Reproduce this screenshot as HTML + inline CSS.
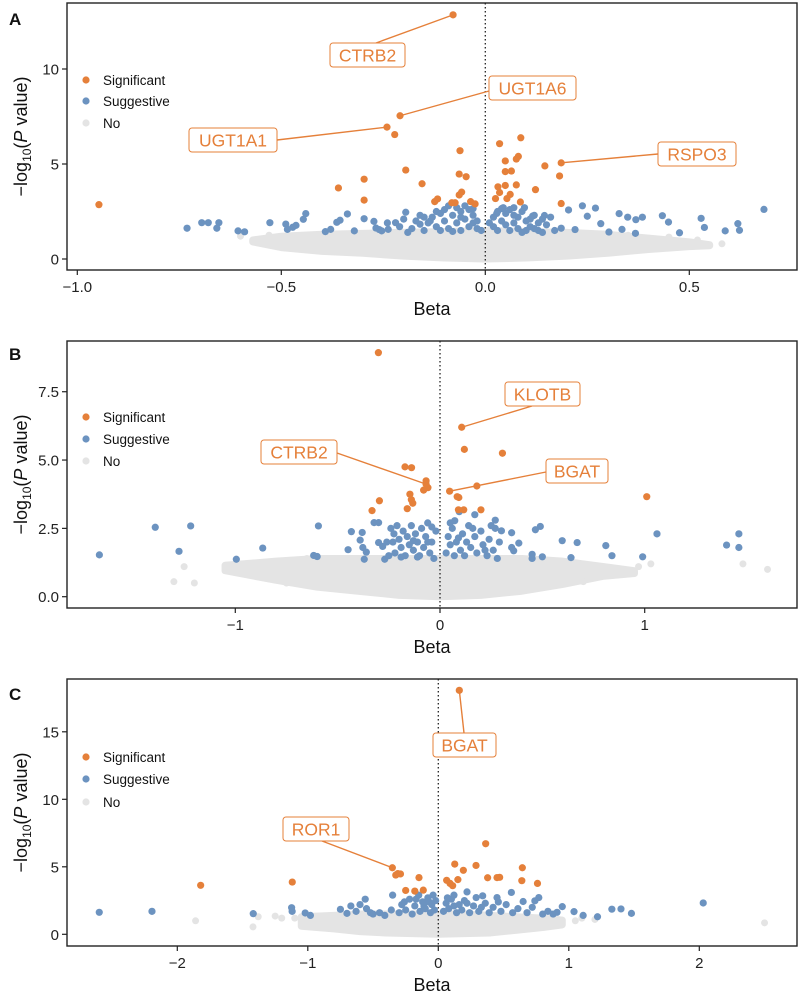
<!DOCTYPE html>
<html><head><meta charset="utf-8"><style>
body{margin:0;background:#fff}
svg{display:block;font-family:"Liberation Sans",Arial,sans-serif}
</style></head><body>
<svg id="chart" width="800" height="995" viewBox="0 0 800 995" xmlns="http://www.w3.org/2000/svg"></svg>
<script>
// ---------- Panel A data ----------
const sigA=[[-0.079,12.85],[-0.209,7.54],[-0.241,6.94],[-0.222,6.55],[-0.36,3.74],[-0.297,4.2],[-0.297,3.1],[-0.947,2.86],[-0.062,5.7],[-0.195,4.68],[-0.155,3.96],[-0.064,4.47],[-0.047,4.33],[-0.058,3.52],[-0.064,3.37],[-0.117,3.16],[-0.124,3.02],[-0.082,2.96],[-0.074,2.96],[-0.036,3.02],[-0.025,2.9],[0.035,6.07],[0.087,6.38],[0.049,5.16],[0.076,5.26],[0.081,5.4],[0.049,4.6],[0.064,4.63],[0.076,3.9],[0.031,3.8],[0.049,3.87],[0.035,3.5],[0.061,3.4],[0.025,3.18],[0.053,3.18],[0.086,3.0],[0.123,3.65],[0.146,4.9],[0.186,5.06],[0.182,4.37],[0.186,2.92]];
const sugA=[[-0.731,1.62],[-0.695,1.91],[-0.679,1.91],[-0.658,1.62],[-0.653,1.91],[-0.606,1.48],[-0.59,1.43],[-0.528,1.91],[-0.489,1.84],[-0.485,1.56],[-0.472,1.67],[-0.464,1.77],[-0.446,2.09],[-0.44,2.39],[-0.392,1.44],[-0.379,1.56],[-0.364,1.93],[-0.356,2.04],[-0.338,2.37],[-0.321,1.48],[-0.297,2.12],[-0.273,1.98],[-0.268,1.63],[-0.254,1.48],[-0.238,1.56],[-0.22,1.91],[-0.195,2.46],[-0.16,1.83],[-0.135,2.0],[-0.11,2.4],[0.028,2.4],[0.044,2.7],[0.07,2.7],[0.096,2.7],[0.116,2.26],[0.145,2.29],[0.186,1.62],[0.204,2.58],[0.22,1.55],[0.238,2.8],[0.25,2.25],[0.27,2.68],[0.283,1.86],[0.303,1.42],[0.328,2.39],[0.335,1.56],[0.349,2.2],[0.368,1.35],[0.369,2.07],[0.385,2.2],[0.434,2.28],[0.449,1.94],[0.476,1.38],[0.529,2.14],[0.537,1.66],[0.588,1.48],[0.619,1.86],[0.623,1.51],[0.683,2.61],
[-0.18,1.6],[-0.17,2.0],[-0.15,1.5],[-0.14,1.9],[-0.13,2.2],[-0.12,1.7],[-0.11,1.5],[-0.1,2.6],[-0.1,2.0],[-0.09,1.6],[-0.08,2.3],[-0.07,2.7],[-0.07,1.9],[-0.06,2.5],[-0.06,1.5],[-0.05,2.8],[-0.05,2.1],[-0.04,2.6],[-0.04,1.7],[-0.03,2.3],[-0.03,1.9],[-0.02,2.0],[-0.02,1.6],[-0.01,1.5],[0.02,1.7],[0.02,2.2],[0.03,2.5],[0.03,1.5],[0.04,2.0],[0.05,1.8],[0.05,2.4],[0.06,1.5],[0.07,1.9],[0.08,2.2],[0.08,1.6],[0.09,1.4],[0.1,2.0],[0.11,1.7],[0.12,2.3],[0.13,1.5],[0.14,2.1],[0.15,1.8],[-0.19,1.4],[-0.16,2.3],[0.06,2.6],[0.1,1.5],[0.12,1.6],[0.14,1.4],[-0.21,1.7],[-0.2,2.1],[0.17,1.5],[0.16,2.2],
[-0.09,2.8],[-0.08,1.45],[-0.06,2.2],[-0.03,2.65],[0.01,1.9],[0.04,2.65],[0.07,2.3],[0.09,2.5],[0.11,2.1],[0.13,1.9],[-0.15,2.2],[-0.12,2.5],[-0.24,1.9],[-0.26,1.55]];
const greyXA=[-0.57,-0.5,-0.4,-0.3,-0.2,-0.1,0,0.1,0.2,0.3,0.4,0.5,0.55];
const greyTopA=[1.0,1.2,1.3,1.35,1.4,1.45,1.5,1.45,1.4,1.3,1.1,0.9,0.75];
const greyBotA=[0.9,0.6,0.4,0.3,0.15,0.05,0.0,0.05,0.15,0.3,0.5,0.65,0.7];
const greyPtsA=[[-0.6,1.2],[-0.53,1.25],[0.52,1.0],[0.58,0.8],[0.45,1.15],[-0.45,1.1],[-0.5,0.7],[0.4,0.6],[0.35,1.25]];
const labelsA=[{t:"CTRB2",p:[-0.079,12.85],bx:330,by:43,bw:75,lx:376,ly:43},{t:"UGT1A6",p:[-0.209,7.54],bx:489,by:76,bw:87,lx:489,ly:91},{t:"UGT1A1",p:[-0.241,6.94],bx:189,by:128,bw:88,lx:277,ly:140},{t:"RSPO3",p:[0.186,5.06],bx:658,by:142,bw:78,lx:658,ly:154}];
const xTicksA=[-1.0,-0.5,0.0,0.5];
const xTickLabelsA=["\u22121.0","\u22120.5","0.0","0.5"];
const yTicksA=[0,5,10];
const yTickLabelsA=["0","5","10"];

// ---------- Panel B data ----------
const sigB=[[-0.301,8.93],[-0.296,3.51],[-0.332,3.15],[0.106,6.2],[0.119,5.39],[0.305,5.25],[-0.171,4.75],[-0.139,4.72],[-0.068,4.24],[-0.059,3.99],[-0.068,4.12],[-0.08,3.9],[-0.147,3.75],[-0.14,3.55],[-0.133,3.42],[-0.16,3.22],[0.047,3.86],[0.18,4.05],[0.084,3.66],[0.092,3.63],[0.09,3.18],[0.116,3.18],[0.2,3.18],[1.01,3.66]];
const sugB=[[-1.664,1.53],[-1.391,2.54],[-1.218,2.59],[-1.275,1.66],[-0.995,1.37],[-0.866,1.78],[-0.594,2.59],[-0.617,1.51],[-0.6,1.47],[-0.449,1.72],[-0.433,2.38],[-0.39,2.07],[-0.38,2.35],[-0.377,1.8],[-0.37,1.37],[-0.36,1.63],[-0.322,2.71],[-0.3,2.71],[-0.3,1.98],[-0.28,1.84],[-0.27,1.37],[-0.26,2.0],[-0.24,2.5],[-0.225,2.3],[0.094,3.11],[0.072,2.78],[0.17,3.0],[0.27,2.8],[0.3,2.41],[0.35,2.34],[0.385,1.96],[0.35,1.8],[0.36,1.68],[0.466,2.45],[0.49,2.57],[0.45,1.55],[0.45,1.4],[0.5,1.46],[0.597,2.05],[0.67,1.98],[0.64,1.43],[0.81,1.87],[0.84,1.5],[0.99,1.46],[1.06,2.3],[1.4,1.89],[1.46,2.3],[1.46,1.8],
[-0.22,1.6],[-0.2,2.1],[-0.19,1.8],[-0.18,2.4],[-0.17,1.5],[-0.16,2.2],[-0.15,1.9],[-0.14,2.6],[-0.13,1.7],[-0.12,2.3],[-0.11,2.0],[-0.1,1.5],[-0.09,2.5],[-0.08,1.8],[-0.07,2.2],[-0.06,2.7],[-0.05,1.6],[-0.04,2.0],[-0.03,1.4],[-0.02,2.4],[0.03,1.6],[0.04,2.2],[0.05,1.9],[0.06,2.5],[0.07,1.5],[0.08,2.0],[0.1,1.7],[0.11,2.3],[0.12,1.5],[0.13,2.0],[0.14,2.6],[0.15,1.8],[0.17,2.2],[0.18,1.6],[0.2,2.4],[0.21,1.9],[0.23,1.5],[0.24,2.1],[0.26,1.7],[0.27,2.5],[0.28,1.4],[-0.25,1.5],[-0.23,2.0],
[-0.21,2.6],[-0.19,1.45],[-0.13,2.05],[-0.11,1.45],[-0.06,2.0],[-0.04,2.55],[0.05,2.7],[0.09,2.15],[0.16,2.5],[0.22,1.7],[0.25,2.6],[0.29,2.0]];
const greyXB=[-1.05,-0.8,-0.6,-0.4,-0.2,0,0.2,0.4,0.6,0.8,0.95];
const greyTopB=[1.15,1.3,1.4,1.4,1.4,1.4,1.4,1.4,1.3,1.1,0.95];
const greyBotB=[0.95,0.6,0.35,0.2,0.05,0.0,0.05,0.2,0.45,0.75,0.85];
const greyPtsB=[[-1.3,0.55],[-1.2,0.5],[-1.25,1.1],[0.97,1.1],[1.03,1.2],[1.48,1.2],[1.6,1.0],[0.78,0.9],[-0.9,1.05],[-0.75,0.5],[-0.65,1.4],[0.7,0.55]];
const labelsB=[{t:"CTRB2",p:[-0.068,4.12],bx:261,by:440,bw:76,lx:337,ly:453},{t:"KLOTB",p:[0.106,6.2],bx:505,by:382,bw:75,lx:532,ly:406},{t:"BGAT",p:[0.047,3.86],bx:546,by:459,bw:62,lx:546,ly:472}];
const xTicksB=[-1,0,1];
const xTickLabelsB=["\u22121","0","1"];
const yTicksB=[0,2.5,5,7.5];
const yTickLabelsB=["0.0","2.5","5.0","7.5"];

// ---------- Panel C data ----------
const sigC=[[0.161,18.07],[0.363,6.71],[0.126,5.2],[0.192,4.74],[0.289,5.1],[0.644,4.93],[0.378,4.19],[0.45,4.2],[0.47,4.22],[0.64,3.97],[0.76,3.77],[0.064,4.0],[0.09,3.77],[0.11,3.6],[0.15,4.05],[-0.148,4.2],[-0.115,3.27],[-0.18,3.2],[-0.29,4.47],[-0.352,4.93],[-0.326,4.39],[-0.31,4.5],[-1.119,3.87],[-1.821,3.63],[-0.25,3.25]];
const sugC=[[-2.598,1.63],[-2.194,1.7],[-1.418,1.53],[-1.124,1.97],[-1.12,1.7],[-1.02,1.58],[-0.98,1.4],[-0.75,1.85],[-0.7,1.55],[-0.67,2.1],[-0.63,1.7],[-0.6,2.2],[-0.56,2.6],[-0.55,1.9],[-0.52,1.6],[-0.5,1.5],[-0.45,1.6],[-0.41,1.4],[-0.36,1.8],[-0.35,2.9],[2.03,2.32],[1.48,1.55],[1.4,1.88],[1.33,1.86],[1.22,1.3],[1.11,1.4],[1.04,1.68],[0.95,2.05],[0.91,1.63],[0.88,1.5],[0.77,2.72],[0.74,2.48],[0.65,2.43],[0.56,3.1],[0.45,2.72],[0.34,2.85],[0.29,2.72],[0.22,3.14],[0.12,2.9],
[-0.3,1.6],[-0.28,2.2],[-0.25,1.8],[-0.22,2.6],[-0.2,1.5],[-0.18,2.1],[-0.15,2.9],[-0.14,1.7],[-0.12,2.4],[-0.1,1.9],[-0.08,2.7],[-0.06,1.6],[-0.05,2.2],[-0.03,1.8],[-0.02,2.5],[0.04,1.7],[0.06,2.3],[0.08,1.9],[0.1,2.6],[0.14,1.6],[0.16,2.2],[0.18,1.8],[0.2,2.5],[0.24,1.6],[0.27,2.1],[0.31,1.7],[0.36,2.3],[0.39,1.6],[0.42,2.0],[0.48,1.7],[0.52,2.2],[0.57,1.6],[0.61,1.9],[0.68,1.6],[0.72,2.0],[0.8,1.5],[0.84,1.7],
[-0.26,2.4],[-0.17,2.6],[-0.11,2.1],[-0.07,2.4],[-0.04,2.9],[0.07,2.7],[0.12,2.1],[0.22,2.3],[0.33,2.0],[0.46,2.4]];
const greyXC=[-1.05,-0.8,-0.6,-0.4,-0.2,0,0.2,0.4,0.6,0.8,0.95];
const greyTopC=[1.3,1.4,1.5,1.5,1.5,1.5,1.5,1.4,1.3,1.2,1.05];
const greyBotC=[0.6,0.4,0.2,0.1,0.05,0.0,0.05,0.1,0.3,0.5,0.7];
const greyPtsC=[[-1.86,1.0],[-1.42,0.55],[-1.38,1.3],[-1.25,1.35],[-1.2,1.2],[-1.1,1.2],[1.05,1.0],[1.1,1.2],[1.2,1.1],[2.5,0.85],[0.75,1.2]];
const labelsC=[{t:"ROR1",p:[-0.352,4.93],bx:283,by:817,bw:66,lx:322,ly:841},{t:"BGAT",p:[0.161,18.07],bx:433,by:733,bw:63,lx:464,ly:733}];
const xTicksC=[-2,-1,0,1,2];
const xTickLabelsC=["\u22122","\u22121","0","1","2"];
const yTicksC=[0,5,10,15];
const yTickLabelsC=["0","5","10","15"];

const ORANGE="#E5803A", BLUE="#6C93C0", GREY="#E4E4E4";
const NS="http://www.w3.org/2000/svg";
const svg=document.getElementById("chart");
function mk(tag,attrs,parent){const e=document.createElementNS(NS,tag);for(const k in attrs)e.setAttribute(k,attrs[k]);(parent||svg).appendChild(e);return e;}

function panel(cfg){
  const g=mk("g",{});
  
  
  const L=67,R=797,T=cfg.top,B=cfg.bottom;
  const sx=v=>cfg.x0+cfg.kx*v, sy=v=>cfg.y0-cfg.ky*v;
  let pts=[];
  cfg.gx.forEach((x,i)=>pts.push(sx(x)+","+sy(cfg.gt[i])));
  for(let i=cfg.gx.length-1;i>=0;i--)pts.push(sx(cfg.gx[i])+","+sy(cfg.gb[i]));
  const cloud=mk("polygon",{points:pts.join(" "),fill:GREY,stroke:GREY,"stroke-width":7,"stroke-linejoin":"round"},g);
  
  
  cfg.gp.forEach(d=>{const c=mk("circle",{cx:sx(d[0]),cy:sy(d[1]),r:3.5,fill:GREY},g);
    
    });
  const zl=mk("line",{x1:sx(0),x2:sx(0),y1:T,y2:B,stroke:"#222","stroke-width":1.3,"stroke-dasharray":"1.5,2.5"},g);
  
  
  cfg.sug.forEach(d=>{const c=mk("circle",{cx:sx(d[0]),cy:sy(d[1]),r:3.6,fill:BLUE},g);
    
    });
  cfg.sig.forEach(d=>{const c=mk("circle",{cx:sx(d[0]),cy:sy(d[1]),r:3.6,fill:ORANGE},g);
    
    });
  cfg.labels.forEach(l=>{
    const ln=mk("line",{x1:l.lx,y1:l.ly,x2:sx(l.p[0]),y2:sy(l.p[1]),stroke:ORANGE,"stroke-width":1.4},g);
    
    
    const r=mk("rect",{x:l.bx,y:l.by,width:l.bw,height:24,rx:3,fill:"#fff",stroke:ORANGE,"stroke-width":1},g);
    
    
    const t=mk("text",{x:l.bx+l.bw/2,y:l.by+18.5,"text-anchor":"middle","font-size":17.5,fill:ORANGE},g);
    t.textContent=l.t;
    
    
  });
  const fr=mk("rect",{x:L,y:T,width:R-L,height:B-T,fill:"none",stroke:"#222","stroke-width":1.4},g);
  
  
  cfg.xt.forEach((v,i)=>{mk("line",{x1:sx(v),x2:sx(v),y1:B,y2:B+5,stroke:"#222","stroke-width":1.2},g);
    const t=mk("text",{x:sx(v),y:B+22,"text-anchor":"middle","font-size":15,fill:"#222"},g);
    t.textContent=cfg.xl[i];
    
    });
  cfg.yt.forEach((v,i)=>{mk("line",{x1:L-5,x2:L,y1:sy(v),y2:sy(v),stroke:"#222","stroke-width":1.2},g);
    const t=mk("text",{x:L-8,y:sy(v)+5.5,"text-anchor":"end","font-size":15,fill:"#222"},g);
    t.textContent=cfg.yl[i];
    
    });
  const xt=mk("text",{x:432,y:B+45,"text-anchor":"middle","font-size":18,fill:"#111"},g);
  xt.textContent="Beta";
  
  
  const cy=(T+B)/2;
  const yt=mk("text",{x:0,y:0,transform:`translate(27,${cy}) rotate(-90)`,"text-anchor":"middle","font-size":18,fill:"#111"},g);
  yt.innerHTML='\u2212log<tspan font-size="12" dy="4">10</tspan><tspan dy="-4">(</tspan><tspan font-style="italic">P</tspan> value)';
  
  
  const pl=mk("text",{x:9,y:cfg.letterY,"font-size":17,"font-weight":"bold",fill:"#111"},g);
  pl.textContent=cfg.letter;
  
  
  const lg=mk("g",{},g);
  
  
  [["Significant",ORANGE],["Suggestive",BLUE],["No",GREY]].forEach((e,i)=>{
    const y=cfg.legY[i];
    const c=mk("circle",{cx:86,cy:y,r:3.6,fill:e[1]},lg);
    
    
    const t=mk("text",{x:103,y:y+5,"font-size":13.5,fill:"#111"},lg);
    t.textContent=e[0];
    
    
  });
}

panel({letter:"A",letterY:25,top:3,bottom:270,x0:485.3,kx:408,y0:259,ky:19,gx:greyXA,gt:greyTopA,gb:greyBotA,gp:greyPtsA,sig:sigA,sug:sugA,labels:labelsA,xt:xTicksA,xl:xTickLabelsA,yt:yTicksA,yl:yTickLabelsA,legY:[80,101,123]});
panel({letter:"B",letterY:360,top:341,bottom:608,x0:440,kx:204.7,y0:596.7,ky:27.33,gx:greyXB,gt:greyTopB,gb:greyBotB,gp:greyPtsB,sig:sigB,sug:sugB,labels:labelsB,xt:xTicksB,xl:xTickLabelsB,yt:yTicksB,yl:yTickLabelsB,legY:[417,439,461]});
panel({letter:"C",letterY:700,top:679,bottom:946,x0:438.3,kx:130.5,y0:934.3,ky:13.5,gx:greyXC,gt:greyTopC,gb:greyBotC,gp:greyPtsC,sig:sigC,sug:sugC,labels:labelsC,xt:xTicksC,xl:xTickLabelsC,yt:yTicksC,yl:yTickLabelsC,legY:[757,779,802]});
</script>
</body></html>
